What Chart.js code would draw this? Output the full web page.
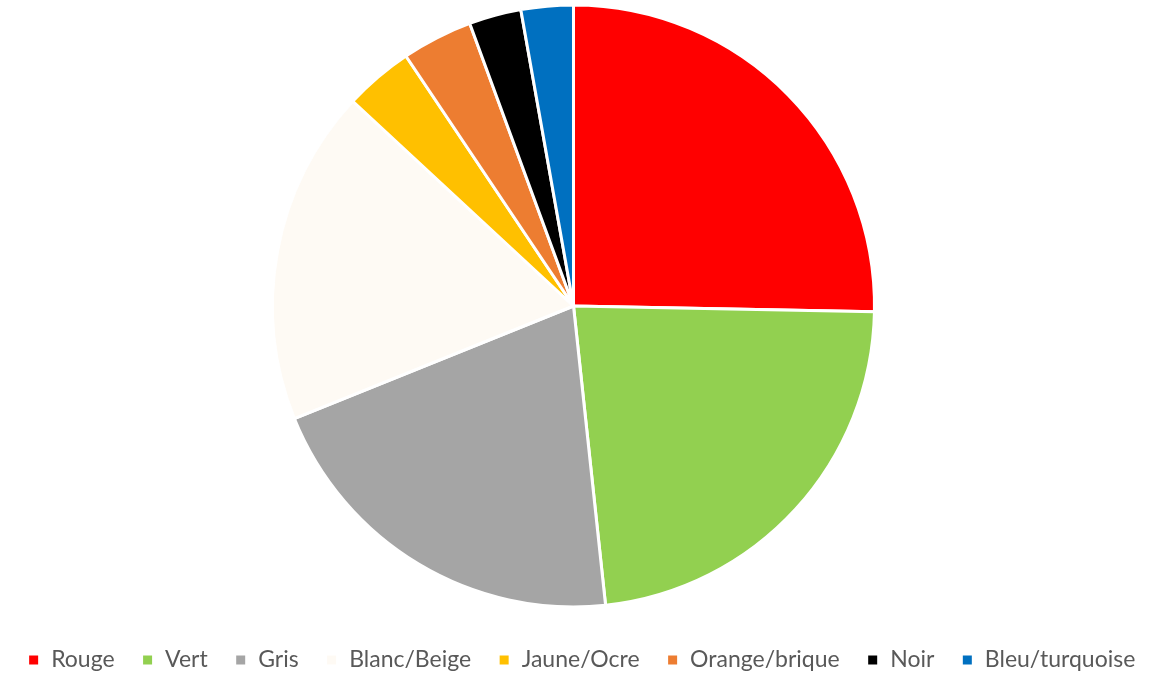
<!DOCTYPE html>
<html>
<head>
<meta charset="utf-8">
<script src="https://cdn.jsdelivr.net/npm/chart.js"></script>
<style>
  html, body { margin: 0; padding: 0; background: #fff; }
  #wrap { width: 1163px; height: 677px; }
</style>
</head>
<body>
<div id="wrap"><canvas id="myChart" width="1163" height="677"></canvas></div>
<script>
const labels = ["Rouge", "Vert", "Gris", "Blanc/Beige", "Jaune/Ocre", "Orange/brique", "Noir", "Bleu/turquoise"];
const values = [25.3, 23.0, 20.6, 18.0, 3.7, 3.8, 2.8, 2.8];
const sliceColors = ["#FF0000", "#92D050", "#A5A5A5", "#FEFAF4", "#FFC000", "#ED7D31", "#000000", "#0070C0"];

new Chart("myChart", {
    type: "pie",
    data: {
        labels: labels,
        datasets: [{ data: values, backgroundColor: sliceColors, borderColor: "#ffffff", borderWidth: 3 }]
    },
    options: {
        responsive: false,
        animation: false,
        radius: 301,
        layout: { padding: { bottom: -4.5 } },
        plugins: {
            tooltip: { enabled: false },
            // empty title on the right just to nudge the pie a bit left of the legend
            title: {
                display: true,
                text: " ",
                position: "right",
                fullSize: false,
                color: "rgba(0,0,0,0)",
                font: { size: 10, lineHeight: 1 },
                padding: { top: 3, bottom: 3 }
            },
            legend: {
                position: "bottom",
                // blank legend title = a bit of space above the items
                title: {
                    display: true,
                    text: " ",
                    color: "rgba(0,0,0,0)",
                    font: { size: 5, lineHeight: 1 },
                    padding: { top: 2, bottom: 2.5 }
                },
                labels: {
                    color: "#595959",
                    font: { family: "Lato", size: 23 },
                    boxWidth: 12,
                    boxHeight: 12,
                    padding: 27
                }
            }
        }
    }
});
</script>
</body>
</html>
